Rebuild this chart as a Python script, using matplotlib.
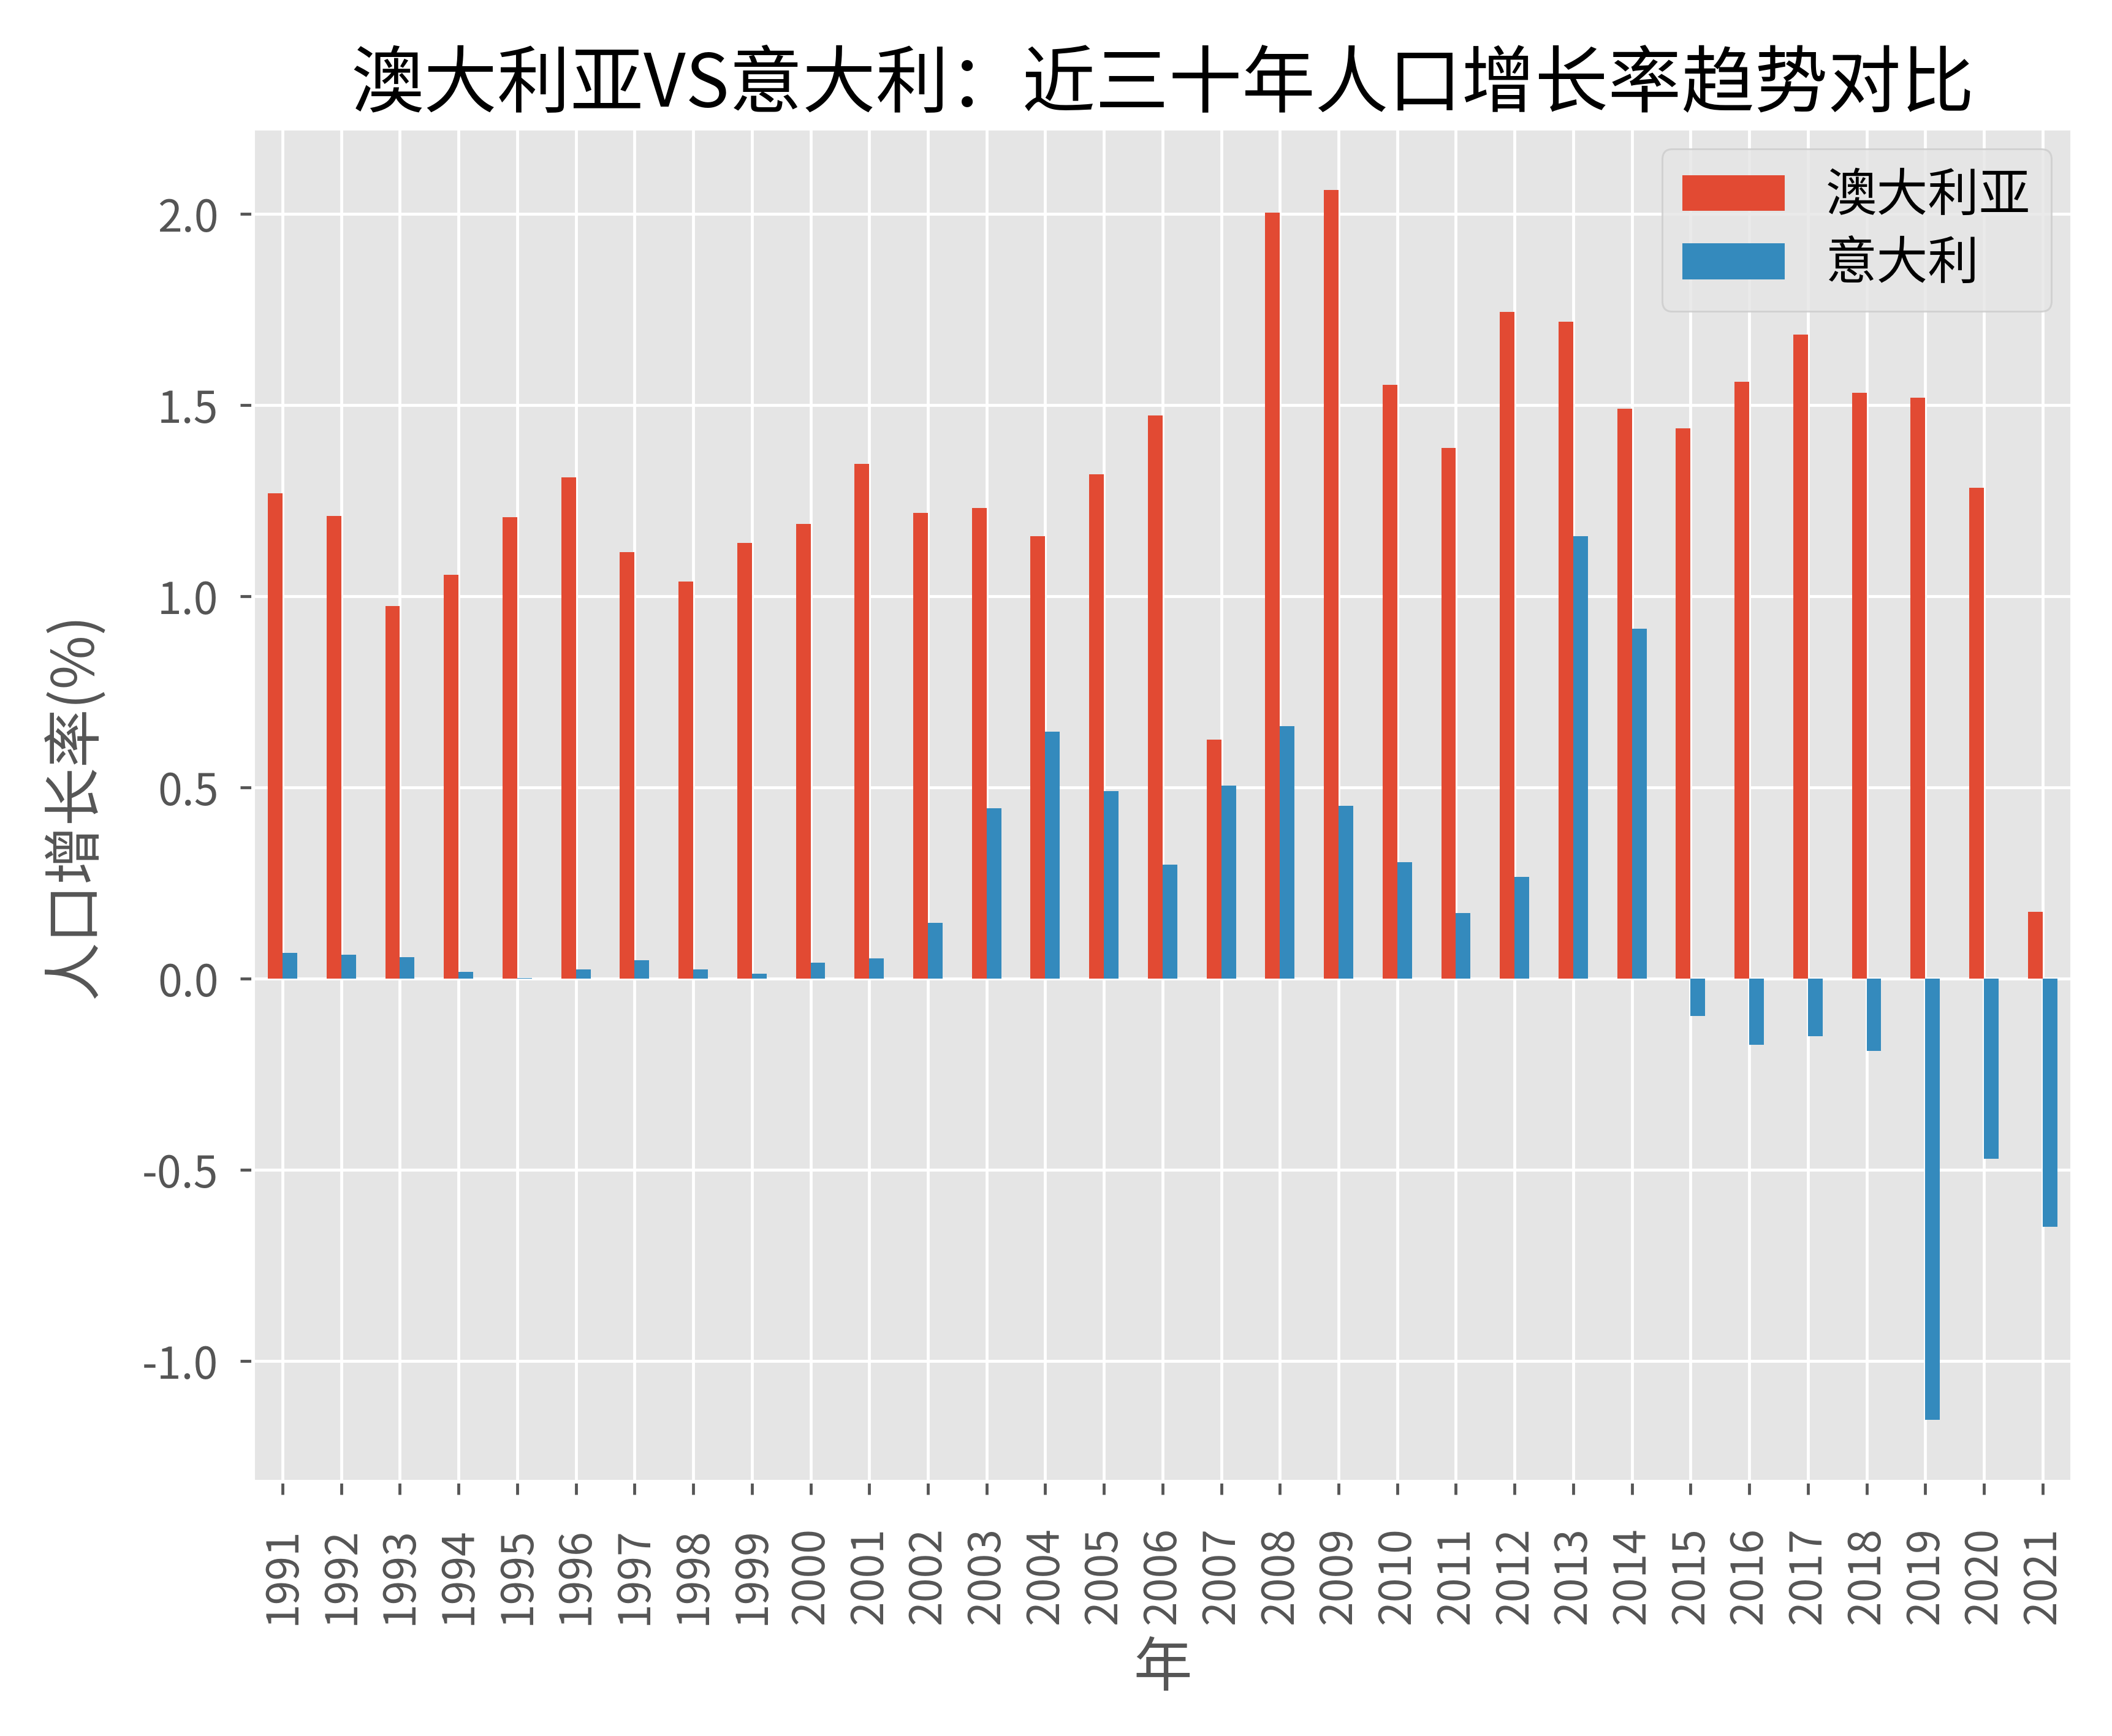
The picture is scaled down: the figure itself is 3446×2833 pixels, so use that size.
import matplotlib
matplotlib.use("Agg")
import matplotlib.pyplot as plt
import pandas as pd

years = list(range(1991, 2022))
australia = [1.27, 1.21, 0.975, 1.056, 1.207, 1.312, 1.116, 1.039, 1.14, 1.19,
             1.347, 1.218, 1.232, 1.158, 1.319, 1.474, 0.625, 2.003, 2.063, 1.554,
             1.389, 1.744, 1.719, 1.491, 1.439, 1.561, 1.684, 1.533, 1.519, 1.284,
             0.175]
italy = [0.067, 0.063, 0.056, 0.018, 0.002, 0.025, 0.049, 0.025, 0.014, 0.042,
         0.053, 0.147, 0.446, 0.646, 0.491, 0.298, 0.505, 0.66, 0.453, 0.305,
         0.172, 0.267, 1.158, 0.916, -0.098, -0.172, -0.151, -0.189, -1.154, -0.47,
         -0.649]
series_names = ["澳大利亚", "意大利"]

plt.style.use("ggplot")
plt.rcParams["font.family"] = ["Noto Sans CJK SC", "DejaVu Sans"]
plt.rcParams["axes.unicode_minus"] = False

df = pd.DataFrame({series_names[0]: australia, series_names[1]: italy}, index=years)

fig = plt.figure(figsize=(3446 / 430, 2833 / 430), dpi=430)
ax = fig.add_axes([0.1199, 0.1466, 0.981 - 0.1199, 0.926 - 0.1466])
df.plot(kind="bar", ax=ax)

ax.set_title("澳大利亚VS意大利：近三十年人口增长率趋势对比", fontsize=20,
             fontweight="medium", color="black")
ax.set_xlabel("年", fontsize=16)
ax.set_ylabel("人口增长率(%)", fontsize=16, labelpad=10)
ax.tick_params(axis="both", labelsize=12)
ax.tick_params(axis="x", pad=9)
ax.tick_params(axis="y", pad=6)
ax.legend(loc="upper right", fontsize=14, labelspacing=0.3, borderaxespad=0.4)

fig.savefig("out.png", dpi=430)
